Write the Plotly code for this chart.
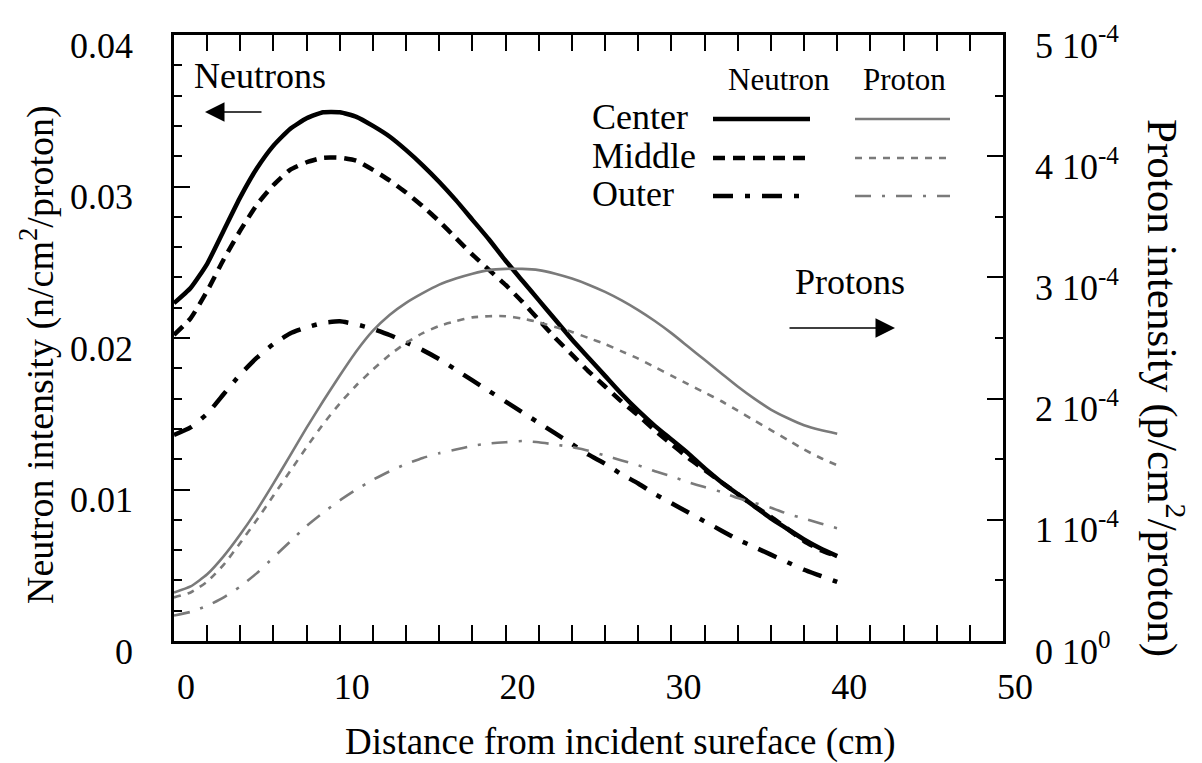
import plotly.graph_objects as go

# Depth into the target (cm)
depth_cm = list(range(0, 41))

# Neutron intensity (n/cm^2/proton)
neutron_center = [0.0223, 0.0233, 0.0249, 0.0271, 0.0293, 0.0312, 0.0327, 0.0338, 0.0345, 0.0349,
                  0.0349, 0.0346, 0.0340, 0.0333, 0.0324, 0.0314, 0.0303, 0.0291, 0.0278, 0.0265,
                  0.0251, 0.0238, 0.0225, 0.0212, 0.0199, 0.0187, 0.0175, 0.0163, 0.0152, 0.0142,
                  0.0133, 0.0124, 0.0114, 0.0105, 0.0097, 0.0089, 0.0081, 0.0074, 0.0067, 0.0061,
                  0.0056]
neutron_middle = [0.0202, 0.0213, 0.0231, 0.0252, 0.0271, 0.0288, 0.0301, 0.0311, 0.0316, 0.0319,
                  0.0319, 0.0317, 0.0311, 0.0304, 0.0296, 0.0287, 0.0277, 0.0266, 0.0255, 0.0245,
                  0.0235, 0.0224, 0.0212, 0.0200, 0.0189, 0.0178, 0.0168, 0.0158, 0.0149, 0.0139,
                  0.0130, 0.0121, 0.0113, 0.0105, 0.0097, 0.0089, 0.0082, 0.0074, 0.0066, 0.0060,
                  0.0056]
neutron_outer = [0.0136, 0.0141, 0.0150, 0.0163, 0.0176, 0.0187, 0.0196, 0.0203, 0.0207, 0.0210,
                 0.0211, 0.0209, 0.0206, 0.0202, 0.0197, 0.0192, 0.0186, 0.0179, 0.0172, 0.0165,
                 0.0158, 0.0151, 0.0144, 0.0137, 0.0130, 0.0123, 0.0117, 0.0110, 0.0104, 0.0097,
                 0.0091, 0.0085, 0.0079, 0.0073, 0.0067, 0.0062, 0.0057, 0.0052, 0.0047, 0.0043,
                 0.0039]

# Proton intensity, in units of 1e-4 p/cm^2/proton
proton_center_e4 = [0.40, 0.45, 0.55, 0.70, 0.88, 1.08, 1.30, 1.53, 1.76, 1.98,
                    2.19, 2.39, 2.56, 2.69, 2.79, 2.87, 2.94, 2.99, 3.03, 3.06,
                    3.07, 3.07, 3.06, 3.03, 2.99, 2.94, 2.88, 2.81, 2.73, 2.64,
                    2.54, 2.43, 2.32, 2.21, 2.10, 2.00, 1.91, 1.84, 1.78, 1.74,
                    1.71]
proton_middle_e4 = [0.36, 0.40, 0.49, 0.63, 0.81, 1.00, 1.20, 1.40, 1.60, 1.79,
                    1.96, 2.11, 2.24, 2.36, 2.46, 2.54, 2.60, 2.64, 2.67, 2.68,
                    2.68, 2.66, 2.63, 2.59, 2.55, 2.50, 2.45, 2.39, 2.33, 2.26,
                    2.19, 2.12, 2.05, 1.98, 1.90, 1.82, 1.74, 1.66, 1.58, 1.51,
                    1.45]
proton_outer_e4 = [0.21, 0.24, 0.29, 0.36, 0.45, 0.56, 0.69, 0.82, 0.95, 1.06,
                   1.16, 1.25, 1.33, 1.40, 1.46, 1.51, 1.55, 1.58, 1.61, 1.63,
                   1.64, 1.65, 1.64, 1.62, 1.60, 1.57, 1.53, 1.49, 1.45, 1.40,
                   1.36, 1.31, 1.27, 1.23, 1.18, 1.14, 1.10, 1.05, 1.01, 0.97,
                   0.93]

x_ticks = [0, 10, 20, 30, 40, 50]
left_ticks = [0, 0.01, 0.02, 0.03, 0.04]
left_tick_text = ["0", "0.01", "0.02", "0.03", "0.04"]
right_ticks = [0, 1, 2, 3, 4, 5]
right_tick_text = ["0 10<sup>0</sup>", "1 10<sup>-4</sup>", "2 10<sup>-4</sup>",
                   "3 10<sup>-4</sup>", "4 10<sup>-4</sup>", "5 10<sup>-4</sup>"]
regions = ["Center", "Middle", "Outer"]

FONT = "Liberation Serif, 'Times New Roman', Times, serif"
NEUTRON_DASH = ["solid", "12px,8px", "20px,12px,5px,12px"]
PROTON_DASH = ["solid", "7px,7px", "16px,11px,3px,11px"]
PROTON_COLOR = "#7a7a7a"

fig = go.Figure()

for series, dash in zip([proton_center_e4, proton_middle_e4, proton_outer_e4], PROTON_DASH):
    fig.add_trace(go.Scatter(x=depth_cm, y=series, yaxis="y2", mode="lines",
                             line=dict(color=PROTON_COLOR, width=2.6, dash=dash, shape="spline", smoothing=0.5),
                             showlegend=False, hoverinfo="skip"))

for series, dash in zip([neutron_center, neutron_middle, neutron_outer], NEUTRON_DASH):
    fig.add_trace(go.Scatter(x=depth_cm, y=series, mode="lines",
                             line=dict(color="black", width=4.5, dash=dash, shape="spline", smoothing=0.5),
                             showlegend=False, hoverinfo="skip"))

W, H = 1202, 763
L, R, T, B = 174, 1003, 35, 641
pw, ph = R - L, B - T


def px(X):
    return (X - L) / pw


def py(Y):
    return (B - Y) / ph


tickfont = dict(family=FONT, size=36, color="black")
minor_common = dict(ticks="inside", ticklen=8, tickwidth=1.8, tickcolor="black")

fig.update_layout(
    width=W, height=H,
    margin=dict(l=L, r=W - R, t=T, b=H - B),
    paper_bgcolor="white", plot_bgcolor="white",
    font=dict(family=FONT, color="black"),
    xaxis=dict(range=[0, 50], tickvals=x_ticks, ticks="inside", ticklen=16, tickwidth=2,
               minor=dict(dtick=2, **minor_common),
               tickcolor="black", showline=True, linewidth=2.5, linecolor="black", mirror="allticks",
               showgrid=False, zeroline=False, tickfont=tickfont,
               ticklabelstandoff=12, ticklabelshift=12),
    yaxis=dict(range=[0, 0.04], tickvals=left_ticks, ticktext=left_tick_text, ticks="inside",
               ticklen=16, tickwidth=2, tickcolor="black",
               minor=dict(dtick=0.002, **minor_common),
               showline=True, linewidth=2.5, linecolor="black", showgrid=False, zeroline=False,
               tickfont=tickfont, ticklabelstandoff=31, ticklabelshift=10),
    yaxis2=dict(range=[0, 5], overlaying="y", side="right", tickvals=right_ticks,
                ticktext=right_tick_text, ticks="inside", ticklen=16, tickwidth=2, tickcolor="black",
                minor=dict(dtick=0.5, **minor_common),
                showline=True, linewidth=2.5, linecolor="black", showgrid=False, zeroline=False,
                tickfont=tickfont, ticklabelstandoff=22, ticklabelshift=10),
)

annotations = [
    dict(text="Distance from incident sureface (cm)", x=px(620), y=py(742), xref="paper", yref="paper",
         showarrow=False, font=dict(family=FONT, size=37), xanchor="center", yanchor="middle"),
    dict(text="Neutron intensity (n/cm<sup>2</sup>/proton)", x=px(38), y=py(355), xref="paper", yref="paper",
         showarrow=False, textangle=-90, font=dict(family=FONT, size=38), xanchor="center", yanchor="middle"),
    dict(text="Proton intensity (p/cm<sup>2</sup>/proton)", x=px(1166), y=py(388), xref="paper", yref="paper",
         showarrow=False, textangle=90, font=dict(family=FONT, size=43), xanchor="center", yanchor="middle"),
    dict(text="Neutrons", x=px(260), y=py(76), xref="paper", yref="paper", showarrow=False,
         font=dict(family=FONT, size=36), xanchor="center", yanchor="middle"),
    dict(text="", x=px(205), y=py(112), xref="paper", yref="paper", showarrow=True,
         ax=58, ay=0, axref="pixel", ayref="pixel", arrowhead=2, arrowsize=2.6, arrowwidth=1.5,
         arrowcolor="black"),
    dict(text="Protons", x=px(850), y=py(282), xref="paper", yref="paper", showarrow=False,
         font=dict(family=FONT, size=36), xanchor="center", yanchor="middle"),
    dict(text="", x=px(895), y=py(328), xref="paper", yref="paper", showarrow=True,
         ax=-107, ay=0, axref="pixel", ayref="pixel", arrowhead=2, arrowsize=2.6, arrowwidth=1.5,
         arrowcolor="black"),
    dict(text="Neutron", x=px(779), y=py(80), xref="paper", yref="paper", showarrow=False,
         font=dict(family=FONT, size=31), xanchor="center", yanchor="middle"),
    dict(text="Proton", x=px(904), y=py(80), xref="paper", yref="paper", showarrow=False,
         font=dict(family=FONT, size=31), xanchor="center", yanchor="middle"),
]

shapes = []
row_y = [117, 156, 194]
for name, yrow, nd, pd_ in zip(regions, row_y, NEUTRON_DASH, PROTON_DASH):
    annotations.append(dict(text=name, x=px(590), y=py(yrow), xref="paper", yref="paper",
                            showarrow=False, font=dict(family=FONT, size=36),
                            xanchor="left", yanchor="middle"))
    shapes.append(dict(type="line", xref="paper", yref="paper", x0=px(713), x1=px(810),
                       y0=py(yrow + 2), y1=py(yrow + 2), line=dict(color="black", width=4.5, dash=nd)))
    shapes.append(dict(type="line", xref="paper", yref="paper", x0=px(855), x1=px(950),
                       y0=py(yrow + 2), y1=py(yrow + 2), line=dict(color=PROTON_COLOR, width=2.6, dash=pd_)))

fig.update_layout(annotations=annotations, shapes=shapes)

fig.write_html("out.html")
